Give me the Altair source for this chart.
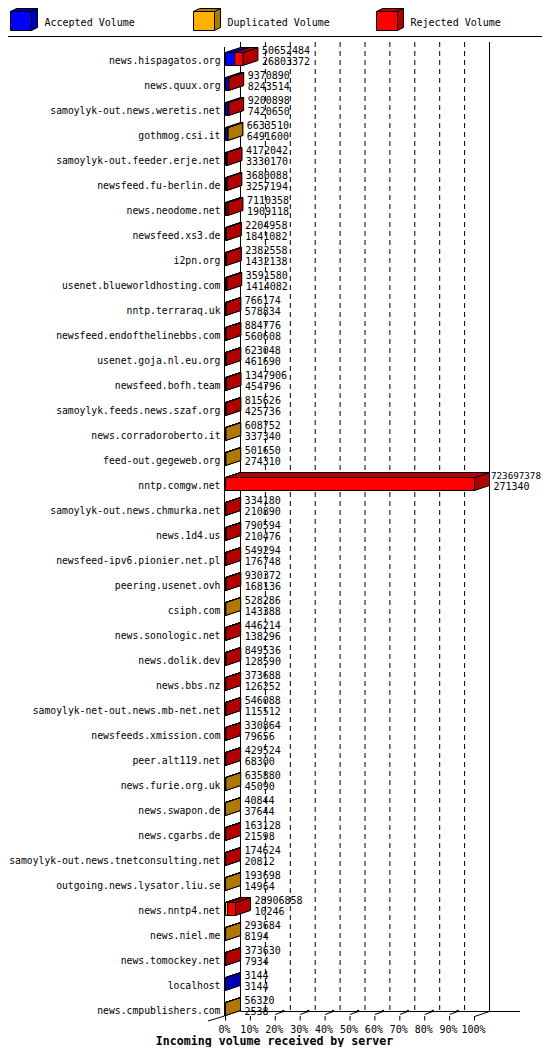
import altair as alt
import pandas as pd

# ---------------- data ----------------
servers = ["news.hispagatos.org", "news.quux.org", "samoylyk-out.news.weretis.net", "gothmog.csi.it",
           "samoylyk-out.feeder.erje.net", "newsfeed.fu-berlin.de", "news.neodome.net", "newsfeed.xs3.de",
           "i2pn.org", "usenet.blueworldhosting.com", "nntp.terraraq.uk", "newsfeed.endofthelinebbs.com",
           "usenet.goja.nl.eu.org", "newsfeed.bofh.team", "samoylyk.feeds.news.szaf.org", "news.corradoroberto.it",
           "feed-out.gegeweb.org", "nntp.comgw.net", "samoylyk-out.news.chmurka.net", "news.1d4.us",
           "newsfeed-ipv6.pionier.net.pl", "peering.usenet.ovh", "csiph.com", "news.sonologic.net",
           "news.dolik.dev", "news.bbs.nz", "samoylyk-net-out.news.mb-net.net", "newsfeeds.xmission.com",
           "peer.alt119.net", "news.furie.org.uk", "news.swapon.de", "news.cgarbs.de",
           "samoylyk-out.news.tnetconsulting.net", "outgoing.news.lysator.liu.se", "news.nntp4.net",
           "news.niel.me", "news.tomockey.net", "localhost", "news.cmpublishers.com"]
total_volume = [50652484, 9370890, 9200898, 6633510, 4172042, 3680088, 7110358, 2204958, 2382558, 3591580,
                766174, 884776, 623048, 1347906, 815626, 608752, 501650, 723697378, 334180, 790594,
                549294, 930372, 528286, 446214, 849536, 373688, 546088, 330864, 429524, 635880,
                40844, 163128, 174624, 193698, 28906858, 293684, 373630, 3144, 56320]
accepted_volume = [26803372, 8243514, 7420650, 6491600, 3330170, 3257194, 1909118, 1841082, 1432138, 1414082,
                   578834, 560608, 461690, 454796, 425736, 337340, 274310, 271340, 210890, 210476,
                   176748, 168136, 143388, 138296, 128590, 126252, 115512, 79656, 68300, 45090,
                   37644, 21598, 20812, 14964, 10246, 8194, 7934, 3144, 2538]
# colour of the non-accepted part seen on each bar
remainder_kind = ["rej", "rej", "rej", "dup", "rej", "rej", "rej", "rej", "rej", "rej",
                  "rej", "rej", "rej", "rej", "rej", "dup", "dup", "rej", "rej", "rej",
                  "rej", "rej", "dup", "rej", "rej", "rej", "rej", "rej", "rej", "dup",
                  "dup", "rej", "rej", "dup", "rej", "dup", "rej", "rej", "dup"]
# visible duplicated slice on a mixed bar (estimated)
duplicated_estimate = {"news.nntp4.net": 6700000}

legend_names = ["Accepted Volume", "Duplicated Volume", "Rejected Volume"]
legend_kinds = ["acc", "dup", "rej"]
tick_values = [0, 10, 20, 30, 40, 50, 60, 70, 80, 90, 100]
tick_labels = ["0%", "10%", "20%", "30%", "40%", "50%", "60%", "70%", "80%", "90%", "100%"]
axis_title = "Incoming volume received by server"

# ---------------- style / geometry ----------------
FRONT = {"acc": "#0000FF", "dup": "#FFB000", "rej": "#FF0000"}
DARK = {"acc": "#0000B0", "dup": "#B07800", "rej": "#B00000"}
FONT = "DejaVu Sans Mono"
CHAR_W = 0.602                  # advance of the mono font, in em
TEXT_UP = 2.0                   # text baseline correction, px

MARGIN = 8.0
X0, PX100 = 225.5, 249.0        # page px of 0 % and length of 100 %
ROW0, ROWH = 59.5, 25.0         # page px of first row centre, row pitch
DEPTH_X, DEPTH_Y = 15.0, 5.0    # 3-D depth in px
W, H = 550 - 2 * MARGIN, 1055 - 2 * MARGIN
RIGHT_LIMIT = MARGIN + W - 1.0  # last usable page px


def ux(px):
    return (px - X0) / PX100 * 100.0


def uy(py):
    return (py - ROW0) / ROWH


n = len(servers)
xscale = alt.Scale(domain=[0, 100], range=[X0 - MARGIN, X0 + PX100 - MARGIN], nice=False, zero=False)
yscale = alt.Scale(domain=[0, n - 1], range=[ROW0 - MARGIN, ROW0 + ROWH * (n - 1) - MARGIN], nice=False, zero=False)


def X(f, **kw):
    return alt.X(f, type="quantitative", scale=xscale, axis=None, **kw)


def Y(f, **kw):
    return alt.Y(f, type="quantitative", scale=yscale, axis=None, **kw)


DXP = DEPTH_X / PX100 * 100.0
DYR = DEPTH_Y / ROWH
FT, FB = -7.0 / ROWH, 6.0 / ROWH

MAXV = max(total_volume)

# ---------------- bar segments ----------------
seg_rows = []
ends = []
for i, name in enumerate(servers):
    acc = accepted_volume[i]
    rest = total_volume[i] - acc
    dup = duplicated_estimate.get(name, rest if remainder_kind[i] == "dup" else 0)
    rej = rest - dup
    start = 0
    for kind, v in (("acc", acc), ("dup", dup), ("rej", rej)):
        if v <= 0:
            continue
        s = start / MAXV * 100.0
        e = (start + v) / MAXV * 100.0
        seg_rows.append(dict(id=f"{i:02d}{kind}", kind=kind, row=i, s=s, e=e))
        start += v
    ends.append(start / MAXV * 100.0)
seg = pd.DataFrame(seg_rows)

fronts = seg.assign(yt=seg.row + FT, yb=seg.row + FB).rename(columns={"s": "xs", "e": "xe"})
tops = pd.concat([
    pd.DataFrame(dict(id=seg.id, kind=seg.kind, yy=seg.row + FT, xa=seg.s, xb=seg.e)),
    pd.DataFrame(dict(id=seg.id, kind=seg.kind, yy=seg.row + FT - DYR, xa=seg.s + DXP, xb=seg.e + DXP)),
])
sides = pd.concat([
    pd.DataFrame(dict(id=seg.id, kind=seg.kind, xx=seg.e, ya=seg.row + FT, yb=seg.row + FB)),
    pd.DataFrame(dict(id=seg.id, kind=seg.kind, xx=seg.e + DXP, ya=seg.row + FT - DYR, yb=seg.row + FB - DYR)),
])

# ---------------- legend boxes (3-D) ----------------
leg_rows, leg_top, leg_side, leg_text = [], [], [], []
LDX, LDY = 6.0, 3.0
for k, (nm, kind) in enumerate(zip(legend_names, legend_kinds)):
    x1, x2 = 10.5 + 183 * k, 31.5 + 183 * k
    y1, y2 = 11.5, 30.5
    leg_rows.append(dict(kind=kind, xs=ux(x1), xe=ux(x2), yt=uy(y1), yb=uy(y2)))
    leg_top += [dict(id=k, kind=kind, yy=uy(y1), xa=ux(x1), xb=ux(x2)),
                dict(id=k, kind=kind, yy=uy(y1 - LDY), xa=ux(x1 + LDX), xb=ux(x2 + LDX))]
    leg_side += [dict(id=k, kind=kind, xx=ux(x2), ya=uy(y1), yb=uy(y2)),
                 dict(id=k, kind=kind, xx=ux(x2 + LDX), ya=uy(y1 - LDY), yb=uy(y2 - LDY))]
    leg_text.append(dict(x=ux(44.5 + 183 * k), y=uy(24.6 - TEXT_UP), label=nm))
leg_front = pd.DataFrame(leg_rows)
leg_top = pd.DataFrame(leg_top)
leg_side = pd.DataFrame(leg_side)
leg_text = pd.DataFrame(leg_text)


# ---------------- frame lines ----------------
def line(x1, y1, x2, y2):
    return dict(x=ux(x1), y=uy(y1), x2=ux(x2), y2=uy(y2))


back0 = X0 + DEPTH_X
back100 = X0 + PX100 + DEPTH_X
solid = [
    line(0, 36.5, 549, 36.5),
    line(224.5, 47, 224.5, 1016),
    line(back0, 42, back0, 1011.5),
    line(back100, 42, back100, 1011.5),
    line(back0, 1011.5, 520, 1011.5),
    line(X0 + PX100, 1016.5, back100, 1011.5),
    line(208, 1021, 224.5, 1016),
]
for t in tick_values:
    solid.append(dict(x=t, y=uy(1016), x2=t, y2=uy(1020.5)))
for t in tick_values[2:-1]:
    solid.append(dict(x=t, y=uy(1014.5), x2=t + 8 / PX100 * 100, y2=uy(1011.5)))
solid = pd.DataFrame(solid)
dashed = pd.DataFrame([dict(x=t + DXP, y=uy(42), x2=t + DXP, y2=uy(1011.5)) for t in tick_values[1:-1]])
dots = pd.DataFrame([dict(x=t + 8 / PX100 * 100, y=uy(1011)) for t in tick_values[2:-1]])

# ---------------- text tables ----------------
names_df = pd.DataFrame(dict(name=servers, y=[i + (3.0 - TEXT_UP) / ROWH for i in range(n)], x=[0.0] * n))

num_rows = []
for i in range(n):
    end_px = X0 + ends[i] / 100.0 * PX100
    for lab, off in ((str(total_volume[i]), -6.8), (str(accepted_volume[i]), 4.5)):
        fs = 10.0
        start = end_px + 19.0
        width = len(lab) * CHAR_W * fs
        if start + width > RIGHT_LIMIT:
            start = max(end_px + DEPTH_X + 1.5, RIGHT_LIMIT - width)
            fs = min(fs, (RIGHT_LIMIT - start) / (len(lab) * CHAR_W))
        num_rows.append(dict(x=ux(start), y=i + (off - TEXT_UP) / ROWH, label=lab, fs=fs))
num_df = pd.DataFrame(num_rows)

ticks_df = pd.DataFrame(dict(x=tick_values, y=[uy(1031.5 - TEXT_UP)] * len(tick_values), label=tick_labels))
title_df = pd.DataFrame([dict(x=ux(274.5), y=uy(1043.5 - TEXT_UP), label=axis_title)])

# ---------------- layers ----------------
layers = []
layers.append(alt.Chart(dashed).mark_rule(color="black", strokeWidth=1, strokeDash=[5, 4]).encode(
    x=X("x"), x2=alt.X2("x2"), y=Y("y"), y2=alt.Y2("y2")))
layers.append(alt.Chart(solid).mark_rule(color="black", strokeWidth=1).encode(
    x=X("x"), x2=alt.X2("x2"), y=Y("y"), y2=alt.Y2("y2")))
layers.append(alt.Chart(dots).mark_square(size=5, color="black", opacity=1, filled=True).encode(
    x=X("x"), y=Y("y")))


def faces(side_df, top_df, front_df, kinds):
    out = []
    for kind in kinds:
        d = side_df[side_df.kind == kind]
        if len(d):
            out.append(alt.Chart(d).mark_area(orient="vertical", fill=DARK[kind], stroke="black",
                                              strokeWidth=1, opacity=1).encode(
                x=X("xx"), y=Y("ya", stack=None), y2=alt.Y2("yb"), detail="id:N"))
    for kind in kinds:
        d = top_df[top_df.kind == kind]
        if len(d):
            out.append(alt.Chart(d).mark_area(orient="horizontal", fill=DARK[kind], stroke="black",
                                              strokeWidth=1, opacity=1).encode(
                y=Y("yy"), x=X("xa", stack=None), x2=alt.X2("xb"), detail="id:N"))
    for kind in kinds:
        d = front_df[front_df.kind == kind]
        if len(d):
            out.append(alt.Chart(d).mark_rect(fill=FRONT[kind], stroke="black", strokeWidth=1,
                                              opacity=1).encode(
                x=X("xs"), x2=alt.X2("xe"), y=Y("yt"), y2=alt.Y2("yb")))
    return out


layers += faces(sides, tops, fronts, ["acc", "dup", "rej"])
layers += faces(leg_side, leg_top, leg_front, ["acc", "dup", "rej"])

layers.append(alt.Chart(names_df).mark_text(align="right", dx=-5, font=FONT,
                                            fontSize=9.75, color="black").encode(
    x=X("x"), y=Y("y"), text="name:N"))
layers.append(alt.Chart(num_df).mark_text(align="left", font=FONT, color="black").encode(
    x=X("x"), y=Y("y"), text="label:N", size=alt.Size("fs:Q", scale=None, legend=None)))
layers.append(alt.Chart(ticks_df).mark_text(align="center", dx=-1, font=FONT, fontSize=10, color="black").encode(
    x=X("x"), y=Y("y"), text="label:N"))
layers.append(alt.Chart(title_df).mark_text(align="center", font=FONT, fontSize=11.6, fontWeight="bold",
                                            color="black").encode(
    x=X("x"), y=Y("y"), text="label:N"))
layers.append(alt.Chart(leg_text).mark_text(align="left", font=FONT, fontSize=10, color="black").encode(
    x=X("x"), y=Y("y"), text="label:N"))

chart = alt.layer(*layers).properties(
    width=W, height=H, padding=0, background="white",
    autosize=alt.AutoSizeParams(type="none"),
).configure_view(strokeWidth=0)

chart.save("out.html", embed_options={"renderer": "svg", "actions": False})
